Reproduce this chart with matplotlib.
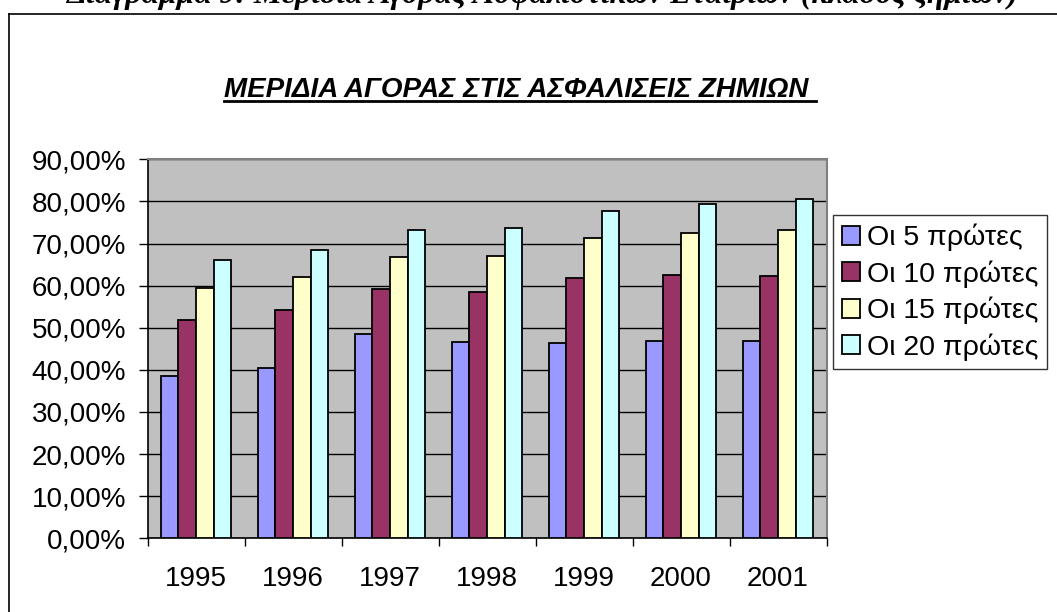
import numpy as np
import matplotlib.pyplot as plt
from matplotlib.lines import Line2D
from matplotlib.ticker import FixedLocator, FuncFormatter

# market share of the top insurers, non-life branch (%)
years = ['1995', '1996', '1997', '1998', '1999', '2000', '2001']
top5 = [38.5, 40.5, 48.6, 46.6, 46.4, 46.8, 46.9]
top10 = [51.9, 54.2, 59.2, 58.5, 61.9, 62.5, 62.3]
top15 = [59.5, 62.1, 66.9, 67.1, 71.4, 72.6, 73.1]
top20 = [66.2, 68.5, 73.2, 73.7, 77.8, 79.3, 80.6]

series = [top5, top10, top15, top20]
labels = ['Οι 5 πρώτες', 'Οι 10 πρώτες', 'Οι 15 πρώτες', 'Οι 20 πρώτες']
colors = ['#9999FF', '#993366', '#FFFFCC', '#CCFFFF']

W, H = 1057, 612
plt.rcParams['font.family'] = ['Liberation Sans', 'DejaVu Sans']

fig = plt.figure(figsize=(W / 100, H / 100), dpi=100)

# frame around the chart object
fig.add_artist(Line2D([8.5 / W, 1.0], [1 - 13.5 / H, 1 - 13.5 / H], color='black', lw=1.2))
fig.add_artist(Line2D([8.5 / W, 8.5 / W], [0, 1 - 13.5 / H], color='black', lw=1.2))

# caption of the document, cut by the page edge
fig.text(542 / W, 1 - 3.5 / H,
         'Διάγραμμα 9: Μερίδια Αγοράς Ασφαλιστικών Εταιριών (κλάδος ζημιών)',
         family='Liberation Serif', weight='bold', style='italic', fontsize=22.8,
         ha='center', va='baseline')

ax = fig.add_axes([147.5 / W, 73.7 / H, 679 / W, 379 / H])
ax.set_facecolor('#C0C0C0')

x = np.arange(len(years))
w = 1 / 5.5
for i, (vals, col, lab) in enumerate(zip(series, colors, labels)):
    ax.bar(x + (i - 1.5) * w, vals, width=w, color=col, edgecolor='black',
           linewidth=1.3, label=lab, zorder=3)

ax.set_xlim(-0.5, len(years) - 0.5)
ax.set_ylim(0, 90)
ax.set_yticks(np.arange(0, 91, 10))
ax.yaxis.set_major_formatter(FuncFormatter(lambda v, p: f'{v:.2f}%'.replace('.', ',')))
ax.yaxis.grid(True, color='black', lw=1)
ax.set_axisbelow(True)

ax.xaxis.set_major_locator(FixedLocator(np.arange(-0.5, len(years), 1)))
ax.xaxis.set_major_formatter(FuncFormatter(lambda v, p: ''))
ax.xaxis.set_minor_locator(FixedLocator(x))
ax.set_xticklabels(years, minor=True)
ax.tick_params(axis='x', which='major', direction='out', length=6, width=1)
ax.tick_params(axis='x', which='minor', length=0, pad=20, labelsize=20)
ax.tick_params(axis='y', direction='out', length=6.5, width=1, pad=9, labelsize=20)

for s in ['left', 'bottom']:
    ax.spines[s].set_color('black')
    ax.spines[s].set_linewidth(1.2)
for s in ['top', 'right']:
    ax.spines[s].set_color('#808080')
    ax.spines[s].set_linewidth(1.5)

leg = fig.legend(loc='upper left', bbox_to_anchor=(833 / W, 1 - 215 / H),
                 fontsize=20.5, frameon=True, fancybox=False, edgecolor='black',
                 handlelength=0.65, handleheight=0.65, handletextpad=0.25,
                 labelspacing=0.32, borderpad=0.3, borderaxespad=0)
leg.get_frame().set_linewidth(1)

# underlined chart title
title = fig.text(520 / W, 1 - 97 / H, 'ΜΕΡΙΔΙΑ ΑΓΟΡΑΣ ΣΤΙΣ ΑΣΦΑΛΙΣΕΙΣ ΖΗΜΙΩΝ ',
                 weight='bold', style='italic', fontsize=20, ha='center', va='baseline')
fig.canvas.draw()
bb = title.get_window_extent().transformed(fig.transFigure.inverted())
uy = 1 - 101 / H
fig.add_artist(Line2D([bb.x0, bb.x1], [uy, uy], color='black', lw=2))

fig.savefig('out.png', dpi=100)
